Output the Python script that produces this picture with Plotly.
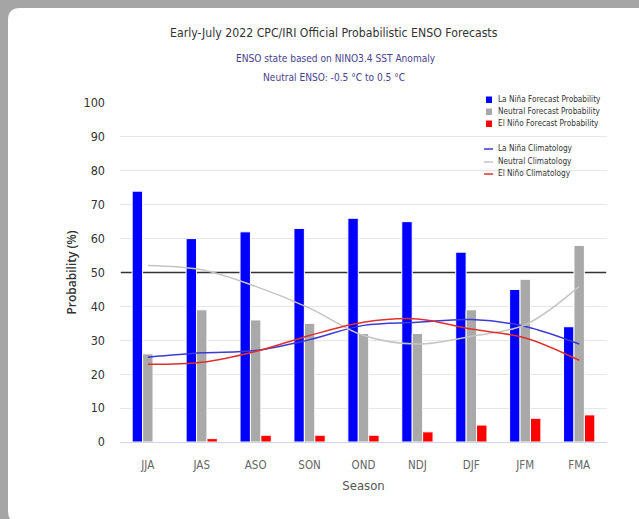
import plotly.graph_objects as go

seasons = ["JJA", "JAS", "ASO", "SON", "OND", "NDJ", "DJF", "JFM", "FMA"]
lanina_prob = [74, 60, 62, 63, 66, 65, 56, 45, 34]
neutral_prob = [26, 39, 36, 35, 32, 32, 39, 48, 58]
elnino_prob = [0, 1, 2, 2, 2, 3, 5, 7, 8]
lanina_clim = [25.0, 26.3, 27.0, 30.2, 34.4, 35.3, 36.1, 34.1, 28.9]
neutral_clim = [52.1, 50.8, 45.9, 39.5, 31.4, 28.9, 31.2, 34.6, 45.9]
elnino_clim = [22.9, 23.5, 26.7, 31.4, 35.3, 36.3, 33.3, 30.7, 24.1]
threshold = 50
y_ticks = [0, 10, 20, 30, 40, 50, 60, 70, 80, 90, 100]

W, H = 639, 519
ML, MR, MT, MB = 120, 32, 103, 77
PW, PH = W - ML - MR, H - MT - MB


def xp(px):
    return (px - ML) / PW


def yp(py):
    return (H - MB - py) / PH


NARROW = "DejaVu Sans Condensed, Liberation Sans Narrow, Open Sans, sans-serif"

BLUE = "#0000ff"
GRAY = "#a9a9a9"
RED = "#ff0000"

fig = go.Figure()
for name, vals, col in [
    ("La Niña Forecast Probability", lanina_prob, BLUE),
    ("Neutral Forecast Probability", neutral_prob, GRAY),
    ("El Niño Forecast Probability", elnino_prob, RED),
]:
    fig.add_trace(go.Bar(x=seasons, y=vals, name=name, marker_color=col,
                         marker_line=dict(color="white", width=1),
                         showlegend=False))

for name, vals, col in [
    ("La Niña Climatology", lanina_clim, "#3a3ad6"),
    ("Neutral Climatology", neutral_clim, "#c4c4c4"),
    ("El Niño Climatology", elnino_clim, "#e0302c"),
]:
    fig.add_trace(go.Scatter(x=seasons, y=vals, name=name, mode="lines",
                             line=dict(color=col, width=1.5, shape="spline", smoothing=1.0),
                             showlegend=False))

shapes = []
# white rounded panel over gray frame
panel = (f"M {xp(20)},{yp(8)} L {xp(680)},{yp(8)} L {xp(680)},{yp(523)} "
         f"L {xp(20)},{yp(523)} Q {xp(8)},{yp(523)} {xp(8)},{yp(511)} "
         f"L {xp(8)},{yp(20)} Q {xp(8)},{yp(8)} {xp(20)},{yp(8)} Z")
shapes.append(dict(type="path", path=panel, xref="paper", yref="paper",
                   fillcolor="white", line=dict(width=0), layer="below"))
# 50% reference line: between gridlines and bars
shapes.append(dict(type="line", xref="x", yref="y", x0=-0.5, x1=len(seasons) - 0.5,
                   y0=threshold, y1=threshold, line=dict(color="#333333", width=1.7),
                   layer="between"))

annotations = []
legend_items = [
    ("La Niña Forecast Probability", BLUE, "sq", 99),
    ("Neutral Forecast Probability", GRAY, "sq", 111),
    ("El Niño Forecast Probability", RED, "sq", 123),
    ("La Niña Climatology", "#3a3ad6", "ln", 148),
    ("Neutral Climatology", "#c4c4c4", "ln", 161),
    ("El Niño Climatology", "#e0302c", "ln", 173),
]
for label, col, kind, cy in legend_items:
    annotations.append(dict(text=label, x=xp(496), y=yp(cy), xref="paper", yref="paper",
                            xanchor="left", yanchor="middle", showarrow=False,
                            font=dict(family=NARROW, size=8.2, color="#333333")))
    if kind == "sq":
        shapes.append(dict(type="rect", xref="paper", yref="paper",
                           x0=xp(486), x1=xp(492), y0=yp(cy + 4), y1=yp(cy - 2.5),
                           fillcolor=col, line=dict(width=0), layer="above"))
    else:
        shapes.append(dict(type="line", xref="paper", yref="paper",
                           x0=xp(484), x1=xp(493), y0=yp(cy + 1), y1=yp(cy + 1),
                           line=dict(color=col, width=1.5), layer="above"))

annotations.append(dict(text="Early-July 2022 CPC/IRI Official Probabilistic ENSO Forecasts",
                        x=xp(334), y=yp(33), xref="paper", yref="paper", showarrow=False,
                        xanchor="center", yanchor="middle",
                        font=dict(family=NARROW, size=12.2, color="#333333")))
annotations.append(dict(text="ENSO state based on NINO3.4 SST Anomaly",
                        x=xp(336), y=yp(58), xref="paper", yref="paper", showarrow=False,
                        xanchor="center", yanchor="middle",
                        font=dict(family=NARROW, size=10.1, color="#4b3f90")))
annotations.append(dict(text="Neutral ENSO: -0.5 °C to 0.5 °C",
                        x=xp(334), y=yp(77), xref="paper", yref="paper", showarrow=False,
                        xanchor="center", yanchor="middle",
                        font=dict(family=NARROW, size=10.1, color="#4b3f90")))

fig.update_layout(
    width=W, height=H,
    margin=dict(l=ML, r=MR, t=MT, b=MB, pad=0),
    paper_bgcolor="#a5a5a5",
    plot_bgcolor="rgba(0,0,0,0)",
    barmode="group", bargap=0.42, bargroupgap=0,
    showlegend=False,
    shapes=shapes, annotations=annotations,
    font=dict(family=NARROW, color="#333333"),
)
fig.update_xaxes(
    type="category", showgrid=False, zeroline=False,
    showline=True, linecolor="#ccd6eb", linewidth=1,
    ticks="", ticklabelstandoff=12,
    tickfont=dict(family=NARROW, size=11.5, color="#666666"),
    title=dict(text="Season", standoff=10,
               font=dict(family=NARROW, size=13, color="#555555")),
)
fig.update_yaxes(
    range=[0, 100], tickvals=y_ticks, showgrid=True, gridcolor="#e6e6e6", gridwidth=1,
    zeroline=False, showline=False, ticks="", ticklabelstandoff=14,
    tickfont=dict(family=NARROW, size=12.5, color="#333333"),
    title=dict(text="Probability (%)", standoff=4,
               font=dict(family="Open Sans, sans-serif", size=12, color="#333333", weight=600)),
)

fig.write_html("out.html", config={"displayModeBar": False},
               post_script="document.body.style.margin='0';document.body.style.background='#a5a5a5';")
